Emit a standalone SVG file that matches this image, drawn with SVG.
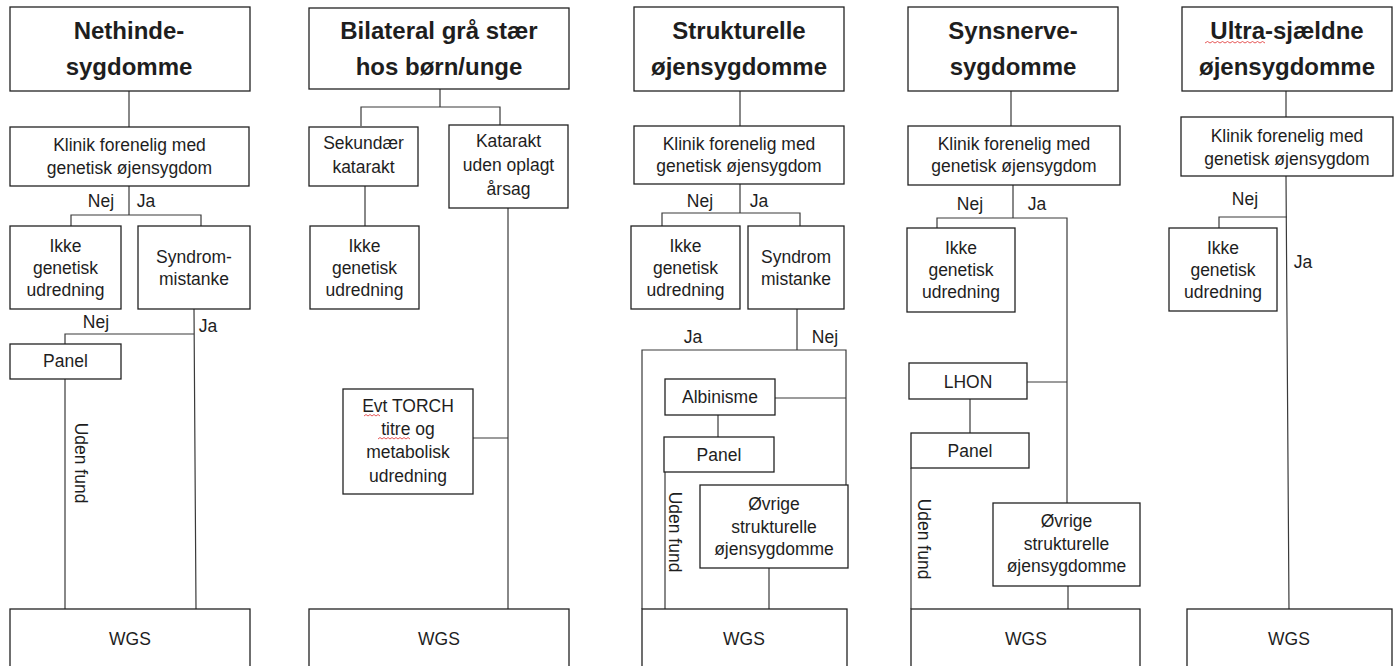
<svg xmlns="http://www.w3.org/2000/svg" width="1395" height="666" viewBox="0 0 1395 666">
<style>
.box{fill:#fff;stroke:#222;stroke-width:1.3}
.c{fill:none;stroke:#3a3a3a;stroke-width:1.2}
text{font-family:"Liberation Sans",Arial,sans-serif;fill:#1e1e1e;text-anchor:middle}
.t{font-size:17.5px}
.h{font-size:24px;font-weight:bold}
.sq{fill:none;stroke:#e03030;stroke-width:0.8}
</style>
<rect width="1395" height="666" fill="#fff"/>
<g id="connectors">
<path class="c" d="M129,91V127M129,186V215M71,226V215H201V226M194,309L196,609M65,344V334H194M65,379V609"/>
<path class="c" d="M440,89V107M361,126V107H500V125M365,186V226M508,208V609M473,438H508"/>
<path class="c" d="M740,91V126M740,184V213M662,226V213H800V226M797,309V350M642,609V350H846V485M775,398H846M718,415V437M665,472V609M769,568V609"/>
<path class="c" d="M1011,91V126M1013,185V218M937,228V218H1067V503M1027,382H1067M970,399V433M911,468V609M1068,586V609"/>
<path class="c" d="M1286,91V117M1286,176L1289,609M1219,228V217H1287"/>
</g>
<g id="labels">
<text class="t" x="101" y="207">Nej</text><text class="t" x="146" y="207">Ja</text>
<text class="t" x="96" y="328">Nej</text><text class="t" x="208" y="332">Ja</text>
<text class="t" transform="translate(75,463) rotate(90)">Uden fund</text>
<text class="t" x="700" y="207">Nej</text><text class="t" x="759" y="207">Ja</text>
<text class="t" x="825" y="343">Nej</text><text class="t" x="693" y="343">Ja</text>
<text class="t" transform="translate(669,532) rotate(90)">Uden fund</text>
<text class="t" x="970" y="210">Nej</text><text class="t" x="1037" y="210">Ja</text>
<text class="t" transform="translate(918,539) rotate(90)">Uden fund</text>
<text class="t" x="1245" y="205">Nej</text><text class="t" x="1303" y="268">Ja</text>
</g>
<g id="c1-title"><rect class="box" x="10" y="7" width="240" height="84"/><text class="h" x="129" y="39">Nethinde-</text><text class="h" x="129" y="75">sygdomme</text></g>
<g id="c1-klinik"><rect class="box" x="10" y="127" width="239" height="59"/><text class="t" x="129.5" y="151">Klinik forenelig med</text><text class="t" x="129.5" y="174">genetisk øjensygdom</text></g>
<g id="c1-ikke"><rect class="box" x="10" y="226" width="111" height="83"/><text class="t" x="65.5" y="252">Ikke</text><text class="t" x="65.5" y="274">genetisk</text><text class="t" x="65.5" y="296">udredning</text></g>
<g id="c1-syndrom"><rect class="box" x="138" y="226" width="112" height="83"/><text class="t" x="194" y="263">Syndrom-</text><text class="t" x="194" y="285">mistanke</text></g>
<g id="c1-panel"><rect class="box" x="10" y="344" width="111" height="35"/><text class="t" x="65.5" y="367">Panel</text></g>
<g id="c1-wgs"><rect class="box" x="10" y="609" width="240" height="100"/><text class="t" x="130" y="645">WGS</text></g>

<g id="c2-title"><rect class="box" x="309" y="8" width="260" height="81"/><text class="h" x="439" y="39">Bilateral grå stær</text><text class="h" x="439" y="75">hos børn/unge</text></g>
<g id="c2-sekundaer"><rect class="box" x="309" y="127" width="109" height="59"/><text class="t" x="363.5" y="149">Sekundær</text><text class="t" x="363.5" y="173">katarakt</text></g>
<g id="c2-katarakt"><rect class="box" x="449" y="125" width="119" height="83"/><text class="t" x="508.5" y="147">Katarakt</text><text class="t" x="508.5" y="171">uden oplagt</text><text class="t" x="508.5" y="195">årsag</text></g>
<g id="c2-ikke"><rect class="box" x="310" y="226" width="109" height="83"/><text class="t" x="364.5" y="252">Ikke</text><text class="t" x="364.5" y="274">genetisk</text><text class="t" x="364.5" y="296">udredning</text></g>
<g id="c2-torch"><rect class="box" x="343" y="389" width="130" height="105"/><text class="t" x="408" y="412">Evt TORCH</text><text class="t" x="408" y="435">titre og</text><text class="t" x="408" y="458">metabolisk</text><text class="t" x="408" y="482">udredning</text>
<path class="sq" d="M364,416l2,-1.5l2,1.5l2,-1.5l2,1.5l2,-1.5l2,1.5l2,-1.5l2,1.5M378,439l2,-1.5l2,1.5l2,-1.5l2,1.5l2,-1.5l2,1.5l2,-1.5l2,1.5l2,-1.5l2,1.5l2,-1.5l2,1.5l2,-1.5l2,1.5l2,-1.5l2,1.5"/></g>
<g id="c2-wgs"><rect class="box" x="309" y="609" width="260" height="100"/><text class="t" x="439" y="645">WGS</text></g>

<g id="c3-title"><rect class="box" x="634" y="7" width="210" height="84"/><text class="h" x="739" y="39">Strukturelle</text><text class="h" x="739" y="75">øjensygdomme</text></g>
<g id="c3-klinik"><rect class="box" x="634" y="126" width="210" height="58"/><text class="t" x="739" y="150">Klinik forenelig med</text><text class="t" x="739" y="172">genetisk øjensygdom</text></g>
<g id="c3-ikke"><rect class="box" x="631" y="226" width="109" height="83"/><text class="t" x="685.5" y="252">Ikke</text><text class="t" x="685.5" y="274">genetisk</text><text class="t" x="685.5" y="296">udredning</text></g>
<g id="c3-syndrom"><rect class="box" x="748" y="226" width="96" height="83"/><text class="t" x="796" y="263">Syndrom</text><text class="t" x="796" y="285">mistanke</text></g>
<g id="c3-albinisme"><rect class="box" x="665" y="379" width="110" height="36"/><text class="t" x="720" y="403">Albinisme</text></g>
<g id="c3-panel"><rect class="box" x="664" y="437" width="110" height="35"/><text class="t" x="719" y="461">Panel</text></g>
<g id="c3-oevrige"><rect class="box" x="700" y="485" width="148" height="83"/><text class="t" x="774" y="510">Øvrige</text><text class="t" x="774" y="533">strukturelle</text><text class="t" x="774" y="555">øjensygdomme</text></g>
<g id="c3-wgs"><rect class="box" x="642" y="609" width="205" height="100"/><text class="t" x="744" y="645">WGS</text></g>

<g id="c4-title"><rect class="box" x="908" y="7" width="210" height="84"/><text class="h" x="1013" y="39">Synsnerve-</text><text class="h" x="1013" y="75">sygdomme</text></g>
<g id="c4-klinik"><rect class="box" x="908" y="126" width="212" height="59"/><text class="t" x="1014" y="150">Klinik forenelig med</text><text class="t" x="1014" y="172">genetisk øjensygdom</text></g>
<g id="c4-ikke"><rect class="box" x="907" y="228" width="108" height="84"/><text class="t" x="961" y="254">Ikke</text><text class="t" x="961" y="276">genetisk</text><text class="t" x="961" y="298">udredning</text></g>
<g id="c4-lhon"><rect class="box" x="909" y="363" width="118" height="36"/><text class="t" x="968" y="388">LHON</text></g>
<g id="c4-panel"><rect class="box" x="911" y="433" width="118" height="35"/><text class="t" x="970" y="457">Panel</text></g>
<g id="c4-oevrige"><rect class="box" x="993" y="503" width="147" height="83"/><text class="t" x="1066.5" y="527">Øvrige</text><text class="t" x="1066.5" y="550">strukturelle</text><text class="t" x="1066.5" y="572">øjensygdomme</text></g>
<g id="c4-wgs"><rect class="box" x="911" y="609" width="229" height="100"/><text class="t" x="1026" y="645">WGS</text></g>

<g id="c5-title"><rect class="box" x="1182" y="7" width="210" height="84"/><text class="h" x="1287" y="39">Ultra-sjældne</text><text class="h" x="1287" y="75">øjensygdomme</text>
<path class="sq" d="M1205,43l2.5,-1.5l2.5,1.5l2.5,-1.5l2.5,1.5l2.5,-1.5l2.5,1.5l2.5,-1.5l2.5,1.5l2.5,-1.5l2.5,1.5l2.5,-1.5l2.5,1.5l2.5,-1.5l2.5,1.5l2.5,-1.5l2.5,1.5l2.5,-1.5l2.5,1.5l2.5,-1.5l2.5,1.5l2.5,-1.5l2.5,1.5l2.5,-1.5l2.5,1.5"/></g>
<g id="c5-klinik"><rect class="box" x="1181" y="117" width="212" height="59"/><text class="t" x="1287" y="142">Klinik forenelig med</text><text class="t" x="1287" y="165">genetisk øjensygdom</text></g>
<g id="c5-ikke"><rect class="box" x="1169" y="228" width="108" height="83"/><text class="t" x="1223" y="254">Ikke</text><text class="t" x="1223" y="276">genetisk</text><text class="t" x="1223" y="298">udredning</text></g>
<g id="c5-wgs"><rect class="box" x="1187" y="609" width="205" height="100"/><text class="t" x="1289" y="645">WGS</text></g>
</svg>
